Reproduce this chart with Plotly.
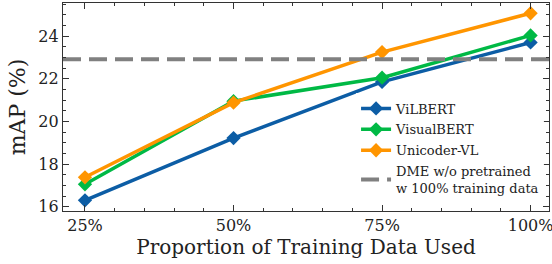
import plotly.graph_objects as go

proportions = [25, 50, 75, 100]
tick_labels = ["25%", "50%", "75%", "100%"]
vilbert = [16.3, 19.22, 21.85, 23.7]
visualbert = [17.05, 20.95, 22.05, 24.03]
unicoder = [17.38, 20.88, 23.25, 25.07]
dme_baseline = 22.91

FONT = "DejaVu Serif"
fig = go.Figure()
series = [("ViLBERT", vilbert, "#0C5DA5"),
          ("VisualBERT", visualbert, "#00B945"),
          ("Unicoder-VL", unicoder, "#FF9500")]
for name, vals, col in series:
    fig.add_trace(go.Scatter(x=proportions, y=vals, name=name, mode="lines+markers",
                             legendgroup=name,
                             line=dict(color=col, width=3.5),
                             marker=dict(symbol="diamond", size=11, color=col)))
fig.add_trace(go.Scatter(x=[21.3, 103.1], y=[dme_baseline, dme_baseline],
                         name="DME w/o pretrained<br>w 100% training data", mode="lines",
                         legendgroup="dme",
                         line=dict(color="#808080", width=4, dash="18px,8px")))

axis_common = dict(showline=True, linecolor="#333", linewidth=1.3, mirror="allticks",
                   ticks="inside", ticklen=6, tickcolor="#333", showgrid=False, zeroline=False,
                   automargin=False, ticklabeloverflow="allow",
                   tickfont=dict(family=FONT, size=16, color="#222"))
fig.update_layout(
    width=552, height=264, margin=dict(l=63, r=3, t=3, b=53),
    plot_bgcolor="white", paper_bgcolor="white",
    xaxis=dict(range=[21.3, 103.1], tickvals=proportions, ticktext=tick_labels,
               minor=dict(dtick=5, tick0=0, ticks="inside", ticklen=3, tickcolor="#333"),
               title=dict(text="Proportion of Training Data Used", font=dict(family=FONT, size=20, color="#222"), standoff=3),
               **axis_common),
    yaxis=dict(range=[15.8, 25.55], tickvals=[16, 18, 20, 22, 24],
               minor=dict(dtick=0.5, tick0=0, ticks="inside", ticklen=3, tickcolor="#333"),
               title=dict(text="mAP (%)", font=dict(family=FONT, size=22, color="#222"), standoff=6),
               **axis_common),
    legend=dict(x=0.603, y=0.565, xanchor="left", yanchor="top", bgcolor="rgba(255,255,255,0.9)",
                font=dict(family=FONT, size=13, color="#222"), tracegroupgap=1, itemwidth=30),
    showlegend=True,
)
fig.write_html("out.html", config={"displayModeBar": False},
               post_script="document.body.style.margin='0px';")
